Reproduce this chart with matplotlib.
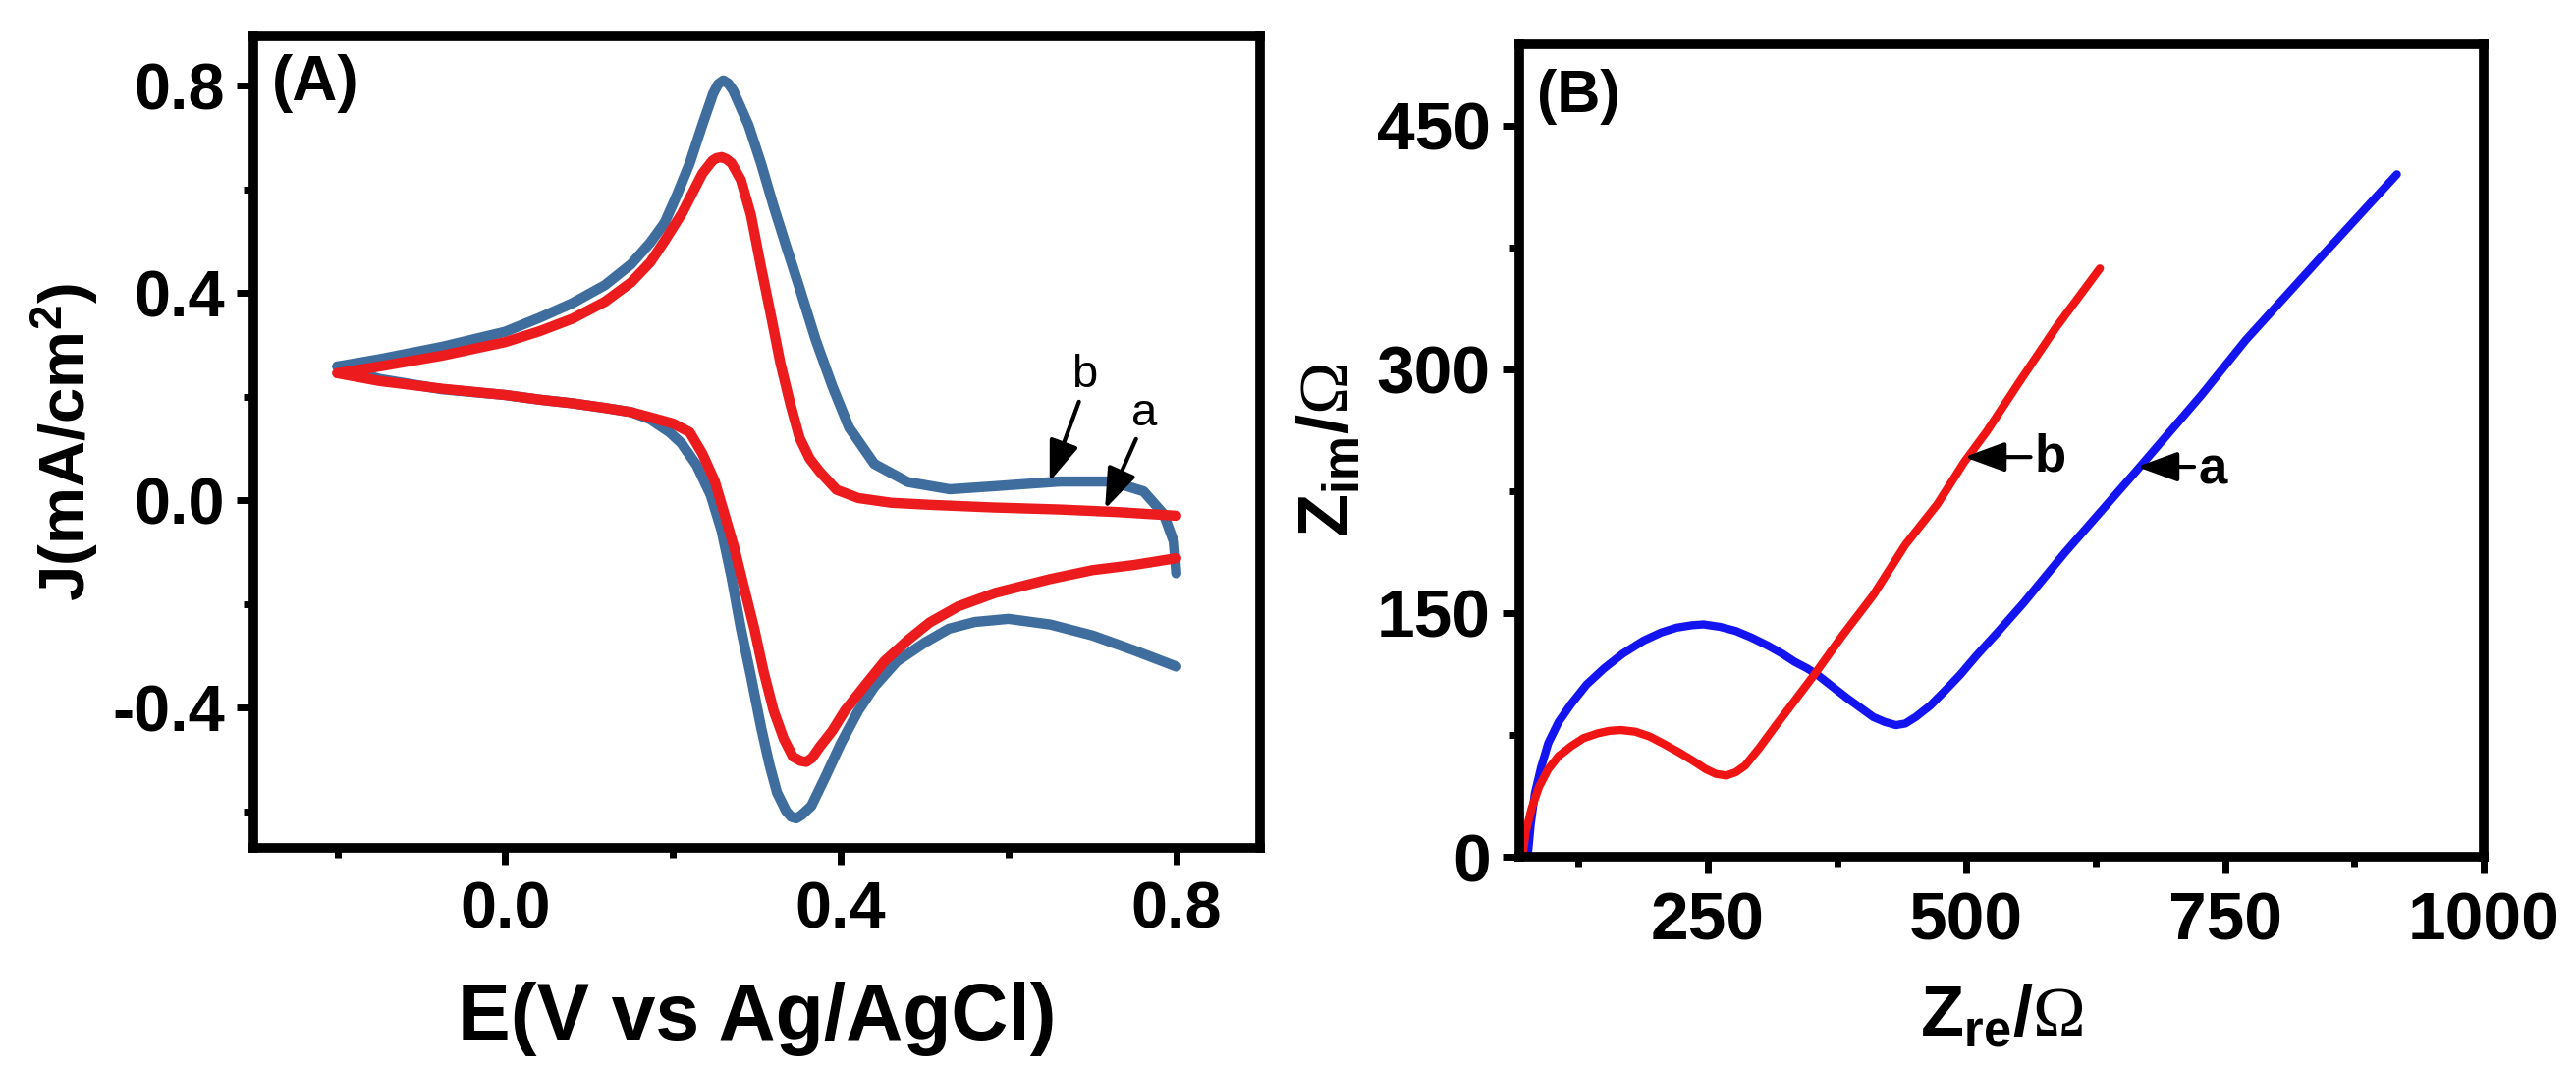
import matplotlib
matplotlib.use('Agg')
import matplotlib.pyplot as plt
from matplotlib import font_manager
from matplotlib.ticker import MultipleLocator

# ---- (A) cyclic voltammograms, E in V, J in mA/cm2 ----
# curve b (blue): forward scan, then reverse scan
cv_b_fwd_E = [-0.20, -0.15, -0.075, 0.0, 0.041, 0.08, 0.119, 0.15, 0.173, 0.19, 0.204, 0.22,
              0.235, 0.248, 0.254, 0.260, 0.266, 0.272, 0.290, 0.305, 0.320, 0.335, 0.351, 0.37,
              0.39, 0.41, 0.44, 0.48, 0.53, 0.584, 0.661, 0.723, 0.761, 0.785, 0.797, 0.80]
cv_b_fwd_J = [0.258, 0.272, 0.296, 0.325, 0.352, 0.38, 0.415, 0.455, 0.497, 0.535, 0.586, 0.65,
              0.724, 0.785, 0.803, 0.810, 0.804, 0.790, 0.724, 0.65, 0.567, 0.49, 0.409, 0.31,
              0.22, 0.14, 0.07, 0.035, 0.021, 0.027, 0.036, 0.036, 0.017, -0.027, -0.08, -0.141]
cv_b_rev_E = [0.80, 0.75, 0.70, 0.65, 0.60, 0.56, 0.529, 0.50, 0.467, 0.44, 0.421, 0.40, 0.382,
              0.365, 0.353, 0.347, 0.341, 0.335, 0.324, 0.315, 0.305, 0.293, 0.281, 0.27, 0.258,
              0.245, 0.228, 0.21, 0.196, 0.173, 0.15, 0.119, 0.08, 0.041, 0.0, -0.075, -0.15, -0.20]
cv_b_rev_J = [-0.321, -0.29, -0.261, -0.24, -0.229, -0.235, -0.248, -0.275, -0.311, -0.36, -0.406,
              -0.47, -0.533, -0.59, -0.608, -0.614, -0.611, -0.60, -0.564, -0.51, -0.438, -0.34,
              -0.248, -0.15, -0.059, 0.01, 0.068, 0.11, 0.131, 0.156, 0.17, 0.178, 0.187, 0.194,
              0.203, 0.214, 0.234, 0.258]
# curve a (red)
cv_a_fwd_E = [-0.20, -0.15, -0.075, 0.0, 0.041, 0.08, 0.119, 0.15, 0.173, 0.19, 0.211, 0.235,
              0.247, 0.252, 0.258, 0.264, 0.27, 0.281, 0.293, 0.305, 0.317, 0.328, 0.34, 0.351,
              0.363, 0.375, 0.395, 0.421, 0.46, 0.506, 0.58, 0.661, 0.73, 0.80]
cv_a_fwd_J = [0.245, 0.258, 0.279, 0.305, 0.326, 0.35, 0.383, 0.42, 0.459, 0.50, 0.554, 0.630,
              0.655, 0.660, 0.662, 0.658, 0.650, 0.618, 0.55, 0.45, 0.355, 0.265, 0.185, 0.12,
              0.08, 0.055, 0.02, 0.004, -0.005, -0.009, -0.014, -0.018, -0.023, -0.030]
cv_a_rev_E = [0.80, 0.75, 0.70, 0.65, 0.584, 0.54, 0.506, 0.48, 0.452, 0.43, 0.405, 0.39, 0.375,
              0.366, 0.359, 0.352, 0.343, 0.332, 0.320, 0.308, 0.297, 0.285, 0.273, 0.262, 0.250,
              0.235, 0.220, 0.20, 0.173, 0.15, 0.119, 0.08, 0.041, 0.0, -0.075, -0.15, -0.20]
cv_a_rev_J = [-0.112, -0.125, -0.135, -0.152, -0.179, -0.205, -0.236, -0.27, -0.311, -0.355,
              -0.406, -0.445, -0.476, -0.497, -0.505, -0.503, -0.495, -0.46, -0.406, -0.33,
              -0.248, -0.17, -0.091, -0.03, 0.036, 0.09, 0.131, 0.148, 0.16, 0.17, 0.178, 0.187,
              0.194, 0.203, 0.215, 0.23, 0.245]

# ---- (B) Nyquist plots, ohm ----
eis_a_re = [76, 79, 83, 89, 96, 106, 118, 133, 150, 168, 188, 205, 220, 235, 246, 262, 277, 292,
            308, 322, 334, 346, 356, 370, 384, 397, 410, 421, 432, 441, 451, 465, 479, 494, 510,
            530, 555, 595, 665, 727, 770, 844, 916]
eis_a_im = [0, 20, 39, 55, 70, 83, 94, 106, 116, 125, 133, 138, 141, 142.5, 143, 141.5, 139, 135,
            130, 125, 120, 116, 112, 105, 98, 92, 86, 83, 81, 82, 86, 93, 102, 112, 124, 138,
            156, 187, 238, 284, 318, 370, 420]
eis_b_re = [71, 74, 80, 87, 96, 106, 118, 130, 144, 155, 166, 180, 194, 209, 223, 236, 248, 258,
            268, 277, 286, 300, 315, 334, 353, 380, 410, 441, 472, 498, 520, 551, 587, 629]
eis_b_im = [0, 15, 30, 43, 54, 62, 68, 73, 76, 77.5, 78, 77, 74, 69, 64, 59, 54, 51, 50, 52, 56,
            67, 80, 96, 112, 136, 161, 192, 217, 243, 262, 292, 326, 362]

installed = {f.name for f in font_manager.fontManager.ttflist}
narrow = 'Liberation Sans Narrow' if 'Liberation Sans Narrow' in installed else 'Liberation Sans'

plt.rcParams['font.family'] = ['Liberation Sans', 'DejaVu Sans']
plt.rcParams['font.weight'] = 'bold'
plt.rcParams['axes.unicode_minus'] = False
plt.rcParams['mathtext.fontset'] = 'custom'
plt.rcParams['mathtext.rm'] = 'Liberation Serif:weight=normal'
plt.rcParams['mathtext.bf'] = 'Liberation Sans:bold'
plt.rcParams['mathtext.it'] = 'Liberation Sans:bold:italic'

fig = plt.figure(figsize=(26.23, 10.88), dpi=100)
ax1 = fig.add_axes([0.0984, 0.2068, 0.3908, 0.7592])
ax2 = fig.add_axes([0.5898, 0.1985, 0.3744, 0.7601])


def style(ax, xpad, ypad):
    for s in ax.spines.values():
        s.set_linewidth(7)
    ax.tick_params(which='major', direction='out', length=12, width=5)
    ax.tick_params(which='minor', direction='out', length=7, width=5)
    ax.tick_params(axis='x', which='major', pad=xpad)
    ax.tick_params(axis='y', which='major', pad=ypad)


blue_cv = '#3F6E9E'
red_cv = '#EC1B1E'
ax1.plot(cv_b_fwd_E, cv_b_fwd_J, color=blue_cv, lw=7.5, solid_capstyle='round', solid_joinstyle='round')
ax1.plot(cv_b_rev_E, cv_b_rev_J, color=blue_cv, lw=7.5, solid_capstyle='round', solid_joinstyle='round')
ax1.plot(cv_a_fwd_E, cv_a_fwd_J, color=red_cv, lw=7.5, solid_capstyle='round', solid_joinstyle='round')
ax1.plot(cv_a_rev_E, cv_a_rev_J, color=red_cv, lw=7.5, solid_capstyle='round', solid_joinstyle='round')
ax1.set_xlim(-0.30, 0.90)
ax1.set_ylim(-0.671, 0.895)
ax1.set_xticks([0.0, 0.4, 0.8])
ax1.set_xticklabels(['0.0', '0.4', '0.8'])
ax1.set_yticks([-0.4, 0.0, 0.4, 0.8])
ax1.set_yticklabels(['-0.4', '0.0', '0.4', '0.8'])
ax1.xaxis.set_minor_locator(MultipleLocator(0.2))
ax1.yaxis.set_minor_locator(MultipleLocator(0.2))
style(ax1, 12, 9)
ax1.tick_params(labelsize=48)
ax1.set_xlabel('E(V vs Ag/AgCl)', fontsize=58, fontweight='bold', va='center')
ax1.xaxis.set_label_coords(0.5, -0.211)
ax1.set_ylabel('J(mA/cm$^{\\mathbf{2}}$)', fontsize=47, fontweight='bold', va='center')
ax1.yaxis.set_label_coords(-0.188, 0.5)
ax1.text(0.018, 0.978, '(A)', transform=ax1.transAxes, fontsize=46, fontweight='bold',
         ha='left', va='top')

arrow = dict(arrowstyle='-|>,head_length=0.6,head_width=0.22', color='black', lw=3,
             mutation_scale=42, shrinkA=0, shrinkB=0)
ax1.annotate('', xy=(0.649, 0.036), xytext=(0.684, 0.19), arrowprops=arrow)
ax1.annotate('', xy=(0.715, -0.017), xytext=(0.752, 0.118), arrowprops=arrow)
ax1.text(0.691, 0.20, 'b', fontsize=34, fontweight='normal', family=narrow, ha='center', va='bottom')
ax1.text(0.762, 0.125, 'a', fontsize=34, fontweight='normal', family=narrow, ha='center', va='bottom')

ax2.plot(eis_a_re, eis_a_im, color='#1414F0', lw=6, solid_capstyle='round', solid_joinstyle='round')
ax2.plot(eis_b_re, eis_b_im, color='#F01414', lw=6, solid_capstyle='round', solid_joinstyle='round')
ax2.set_xlim(68, 1000)
ax2.set_ylim(0, 500)
ax2.set_xticks([250, 500, 750, 1000])
ax2.set_yticks([0, 150, 300, 450])
ax2.xaxis.set_minor_locator(MultipleLocator(125))
ax2.yaxis.set_minor_locator(MultipleLocator(75))
style(ax2, 13, 9)
ax2.tick_params(labelsize=50)
for lab in ax2.get_xticklabels() + ax2.get_yticklabels():
    lab.set_fontfamily(narrow)
ax2.set_xlabel('$\\mathbf{Z_{re}}$/$\\mathrm{\\Omega}$', fontsize=52, fontweight='bold', va='center')
ax2.xaxis.set_label_coords(0.5, -0.197)
ax2.set_ylabel('$\\mathbf{Z_{im}}$/$\\mathrm{\\Omega}$', fontsize=52, fontweight='bold', va='center')
ax2.yaxis.set_label_coords(-0.196, 0.5)
ax2.text(0.018, 0.97, '(B)', transform=ax2.transAxes, fontsize=44, fontweight='bold',
         family=narrow, ha='left', va='top')

ax2.annotate('', xy=(498, 246), xytext=(562, 246), arrowprops=arrow)
ax2.annotate('', xy=(665, 240), xytext=(720, 240), arrowprops=arrow)
ax2.text(566, 246, 'b', fontsize=38, fontweight='bold', family=narrow, ha='left', va='center')
ax2.text(724, 238, 'a', fontsize=38, fontweight='bold', family=narrow, ha='left', va='center')

fig.savefig('out.png', dpi=100, facecolor='white')
